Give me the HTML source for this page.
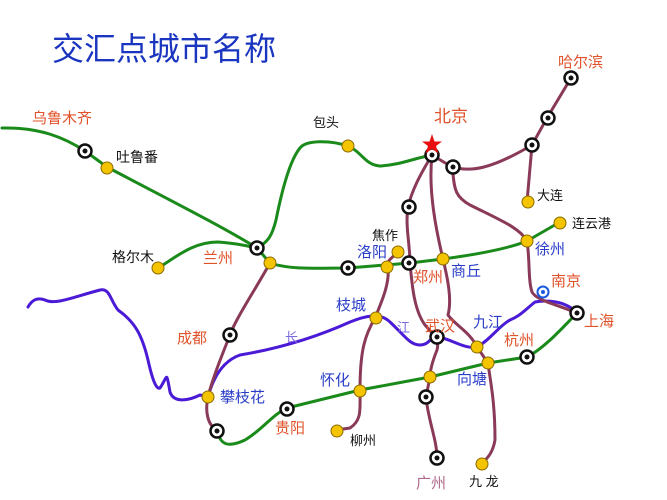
<!DOCTYPE html>
<html><head><meta charset="utf-8"><style>
body{margin:0;background:#fff;}
svg{display:block;}
text{font-family:"Liberation Sans","Noto Sans CJK SC",sans-serif;}
</style></head><body>
<svg width="667" height="500" viewBox="0 0 667 500" xmlns="http://www.w3.org/2000/svg">
<defs>
<g id="r"><circle r="6.5" fill="#fff" stroke="#111" stroke-width="2.5"/><circle r="2.5" fill="#111"/></g>
<g id="y"><circle r="6" fill="#f5c400" stroke="#8a6a00" stroke-width="1"/></g>
</defs>
<text x="52" y="60" font-size="32" fill="#1a35c0">交汇点城市名称</text>

<g fill="none" stroke-width="3" stroke-linecap="round" stroke-linejoin="round">
<!-- green -->
<g stroke="#1a8a1a">
<path d="M2,128 C40,127 65,138 85,151 L107,167 C150,190 220,225 257,248 L270,263 C290,270 320,268 348,268 L410,263 L443,259 C480,254 510,248 527,241 L560,222"/>
<path d="M257,248 C268,242 272,236 276,220 C282,190 290,160 300,148 C306,140 330,140 348,146 C362,152 365,165 380,166 C400,165 415,158 432,155"/>
<path d="M158,268 C175,258 192,242 218,242 C235,243 248,246 257,248"/>
<path d="M217,430 C220,445 228,448 245,440 C262,430 272,415 287,408 L360,390 L430,377 L488,363 L527,357 C545,348 565,325 577,313"/>
</g>
<!-- purple Yangtze -->
<path stroke="#4a1ad6" d="M28,307 C32,300 37,297 45,300 C55,305 70,298 100,290 C110,288 110,300 118,310 C135,322 142,335 148,360 C152,378 156,390 160,388 C168,376 166,370 170,392 C174,404 190,400 200,395 L208,397 C212,382 220,362 240,355 C270,350 310,340 350,322 C365,316 380,312 390,322 C405,336 410,345 420,345 C430,345 430,336 437,337 C450,338 465,350 477,347 C490,340 500,325 510,320 C520,316 525,310 535,302 C545,300 565,300 577,313"/>
<!-- maroon -->
<g stroke="#8a3a58">
<path d="M432,155 L452,167 C470,172 490,170 532,145 L547,118 L571,78"/>
<path d="M532,145 L527,202"/>
<path d="M432,155 C420,175 412,190 408,207 C405,225 410,245 410,263 C412,285 414,310 425,325 C432,333 440,340 437,350 C433,360 430,370 430,377 L426,397 C428,420 437,440 437,458"/>
<path d="M432,155 C428,190 436,230 443,259 C448,280 452,300 448,315 C455,325 470,332 477,347 L488,363 C490,380 495,400 495,440 C493,452 488,458 482,463"/>
<path d="M452,167 C455,185 452,195 470,205 C500,220 520,228 527,241 C530,260 528,280 532,292 C536,300 555,304 577,313"/>
<path d="M270,263 C255,290 235,320 230,335 C222,355 212,380 208,397 C205,410 207,425 217,430"/>
<path d="M398,252 C392,258 385,262 388,267 C390,285 380,305 375,318 C365,335 360,350 360,390 C360,410 362,420 350,428 L336,430"/>
</g>
</g>

<!-- nodes -->
<use href="#r" x="85" y="151"/><use href="#y" x="107" y="168"/>
<use href="#r" x="257" y="248"/><use href="#y" x="270" y="263"/>
<use href="#y" x="158" y="268"/><use href="#y" x="348" y="146"/>
<use href="#r" x="432" y="155"/><use href="#r" x="453" y="167"/>
<use href="#r" x="532" y="145"/><use href="#r" x="548" y="118"/><use href="#r" x="571" y="78"/>
<use href="#y" x="528" y="202"/><use href="#y" x="560" y="223"/><use href="#y" x="527" y="241"/>
<use href="#r" x="409" y="207"/><use href="#y" x="398" y="252"/><use href="#y" x="387" y="267"/>
<use href="#r" x="348" y="268"/><use href="#r" x="409" y="263"/><use href="#y" x="443" y="259"/>
<circle cx="543" cy="292" r="5.5" fill="#fff" stroke="#1a5ae0" stroke-width="2"/><circle cx="543" cy="292" r="2" fill="#1a5ae0"/>
<use href="#r" x="577" y="313"/><use href="#r" x="527" y="357"/>
<use href="#r" x="230" y="335"/><use href="#y" x="208" y="397"/><use href="#r" x="217" y="431"/>
<use href="#y" x="376" y="318"/><use href="#r" x="437" y="337"/><use href="#y" x="477" y="347"/>
<use href="#y" x="488" y="363"/><use href="#y" x="430" y="377"/><use href="#r" x="426" y="397"/>
<use href="#r" x="437" y="458"/><use href="#y" x="482" y="464"/>
<use href="#y" x="360" y="391"/><use href="#r" x="287" y="409"/><use href="#y" x="337" y="431"/>
<polygon points="432,134 434.5,141.5 442,141.5 436,146 438.5,153.5 432,149 425.5,153.5 428,146 422,141.5 429.5,141.5" fill="#e81010"/>

<!-- labels -->
<g font-size="15" fill="#e0522a">
<text x="32" y="123">乌鲁木齐</text>
<text x="203" y="263">兰州</text>
<text x="434" y="122" font-size="17">北京</text>
<text x="558" y="67">哈尔滨</text>
<text x="551" y="286">南京</text>
<text x="584" y="326">上海</text>
<text x="413" y="282">郑州</text>
<text x="425" y="331">武汉</text>
<text x="504" y="345">杭州</text>
<text x="177" y="343">成都</text>
<text x="275" y="433">贵阳</text>
<text x="416" y="488" fill="#b06a8a">广州</text>
</g>
<g font-size="15" fill="#2a3dc8">
<text x="357" y="257">洛阳</text>
<text x="451" y="276">商丘</text>
<text x="535" y="254">徐州</text>
<text x="336" y="310">枝城</text>
<text x="473" y="327">九江</text>
<text x="457" y="384">向塘</text>
<text x="320" y="385">怀化</text>
<text x="220" y="402">攀枝花</text>
<text x="285" y="342" font-size="13" fill="#7a6ae0">长</text>
<text x="397" y="332" font-size="13" fill="#7a6ae0">江</text>
</g>
<g font-size="14" fill="#111">
<text x="116" y="162">吐鲁番</text>
<text x="112" y="262">格尔木</text>
<text x="313" y="127" font-size="13">包头</text>
<text x="537" y="200" font-size="13">大连</text>
<text x="572" y="228" font-size="13">连云港</text>
<text x="372" y="240" font-size="13">焦作</text>
<text x="350" y="445" font-size="13">柳州</text>
<text x="469" y="486" font-size="13">九 龙</text>
</g>
</svg>
</body></html>
